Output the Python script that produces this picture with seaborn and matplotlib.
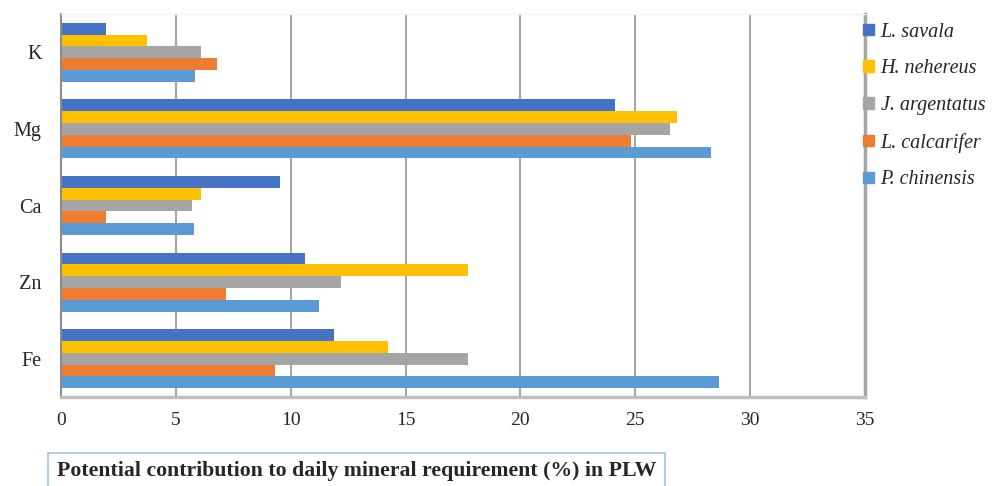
import pandas as pd
import matplotlib.pyplot as plt
import seaborn as sns

# Values
minerals = ["K", "Mg", "Ca", "Zn", "Fe"]
species = ["L. savala", "H. nehereus", "J. argentatus", "L. calcarifer", "P. chinensis"]
l_savala = [1.95, 24.1, 9.55, 10.6, 11.9]
h_nehereus = [3.75, 26.8, 6.1, 17.7, 14.25]
j_argentatus = [6.1, 26.5, 5.7, 12.2, 17.7]
l_calcarifer = [6.8, 24.8, 1.95, 7.2, 9.3]
p_chinensis = [5.85, 28.3, 5.8, 11.25, 28.65]
colors = ["#4472C4", "#FFC000", "#A5A5A5", "#ED7D31", "#5B9BD5"]

series = [l_savala, h_nehereus, j_argentatus, l_calcarifer, p_chinensis]
rows = []
for sp, vals in zip(species, series):
    for m, v in zip(minerals, vals):
        rows.append({"mineral": m, "species": sp, "value": v})
df = pd.DataFrame(rows)

sns.set_style("white")
plt.rcParams["font.family"] = ["Liberation Serif", "DejaVu Serif"]

fig = plt.figure(figsize=(9.97, 4.86), dpi=100)
ax = fig.add_axes([0.0612, 0.183, 0.8064, 0.788])

sns.barplot(data=df, x="value", y="mineral", hue="species", order=minerals,
            hue_order=species, palette=colors, orient="h", width=0.77,
            saturation=1, linewidth=0, ax=ax, legend=False)

ax.set_xlim(0, 35)
ax.set_xticks(range(0, 36, 5))
ax.xaxis.grid(True, color="#A6A6A6", linewidth=1.5)
ax.set_axisbelow(True)
ax.set_xlabel("")
ax.set_ylabel("")
ax.tick_params(axis="x", labelsize=14, length=4, color="#A6A6A6", width=1.5, pad=7)
ax.tick_params(axis="y", labelsize=14.5, length=0, pad=14)
ax.set_yticks(range(len(minerals)))
ax.set_yticklabels(minerals, va="center_baseline")

ax.spines["left"].set_color("#8C8C8C")
ax.spines["left"].set_linewidth(1.5)
ax.spines["bottom"].set_color("#BFBFBF")
ax.spines["bottom"].set_linewidth(2.5)
ax.spines["right"].set_color("#A6A6A6")
ax.spines["right"].set_linewidth(2.5)
ax.spines["top"].set_color("#F2F2F2")
ax.spines["top"].set_linewidth(1)

handles = [plt.Rectangle((0, 0), 1, 1, color=c) for c in colors]
fig.legend(handles, species, loc="upper left", bbox_to_anchor=(0.858, 0.97),
           frameon=False, prop={"style": "italic", "size": 14.5},
           handlelength=0.5, handleheight=0.5, handletextpad=0.35,
           labelspacing=0.88, borderaxespad=0)

fig.text(0.057, 0.03, "Potential contribution to daily mineral requirement (%) in PLW",
         fontsize=15.7, fontweight="bold", ha="left", va="center",
         bbox=dict(boxstyle="square,pad=0.4", facecolor="white",
                   edgecolor="#9DC3E6", linewidth=1.2))

plt.savefig("out.png", dpi=100)
